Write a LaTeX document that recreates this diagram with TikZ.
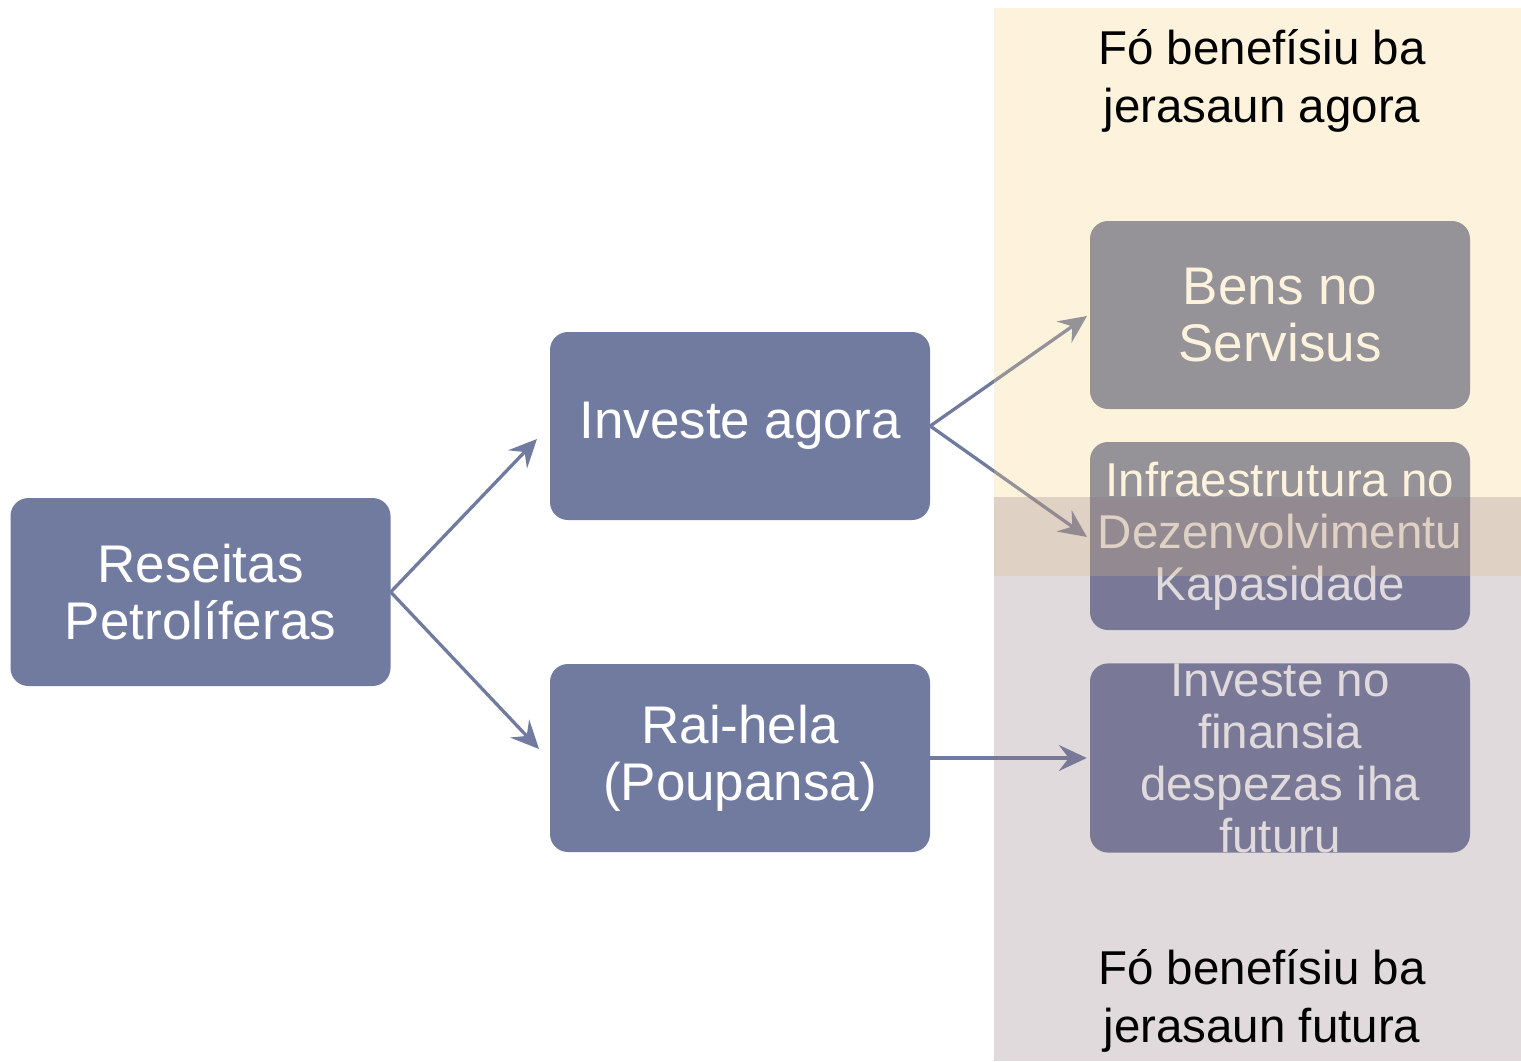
\documentclass[tikz,border=0pt]{standalone}
\usepackage{fontspec}
\setmainfont{Liberation Sans}
\usetikzlibrary{arrows.meta}
\definecolor{boxblue}{RGB}{113,123,160}
\definecolor{ovyellow}{RGB}{248,210,131}
\definecolor{ovmauve}{RGB}{143,119,128}
\tikzset{
  box/.style={rounded corners=18pt, fill=boxblue, minimum width=380pt, minimum height=188pt,
    text=white, align=center, inner sep=0pt},
  bigtext/.style={font=\fontsize{53}{57}\selectfont},
  smalltext/.style={font=\fontsize{47.5}{52}\selectfont},
  conn/.style={draw=boxblue, line width=3.3pt, -{Stealth[length=28pt, width=26pt, inset=10pt]}},
  overlay/.style={fill opacity=0.265},
  header/.style={text=black, align=center, font=\fontsize{47.5}{58}\selectfont}
}
\begin{document}
\begin{tikzpicture}[x=1pt,y=-1pt]
\useasboundingbox (0,0) rectangle (1521,1061);
\fill[white] (0,0) rectangle (1521,1061);

\node[box, bigtext] (res) at (200.5,592) {Reseitas\\Petrolíferas};
\node[box, bigtext] (inv) at (740,426) {Investe agora};
\node[box, bigtext] (rai) at (740,758) {Rai-hela\\(Poupansa)};
\node[box, bigtext] (bens) at (1280,315) {Bens no\\Servisus};
\node[box, smalltext] (infra) at (1280,536) {Infraestrutura no\\Dezenvolvimentu\\Kapasidade};
\node[box, smalltext] (fin) at (1280,758) {Investe no\\finansia\\despezas iha\\futuru};

\coordinate (t1) at (537,439);
\coordinate (t2) at (539,749);
\coordinate (t3) at (1087,316);
\coordinate (t4) at (1087,537);

\draw[conn] (res.east) -- (t1);
\draw[conn] (res.east) -- (t2);
\draw[conn] (inv.east) -- (t3);
\draw[conn] (inv.east) -- (t4);
\draw[conn, shorten >=3pt] (rai.east) -- (fin.west);

\fill[ovyellow, overlay] (994,8) rectangle (1521,576);
\fill[ovmauve, overlay] (994,497) rectangle (1521,1061);

\node[header] (top) at (1262,81) {Fó benefísiu ba\\jerasaun agora};
\node[header] (bot) at (1262,1001) {Fó benefísiu ba\\jerasaun futura};
\end{tikzpicture}
\end{document}
